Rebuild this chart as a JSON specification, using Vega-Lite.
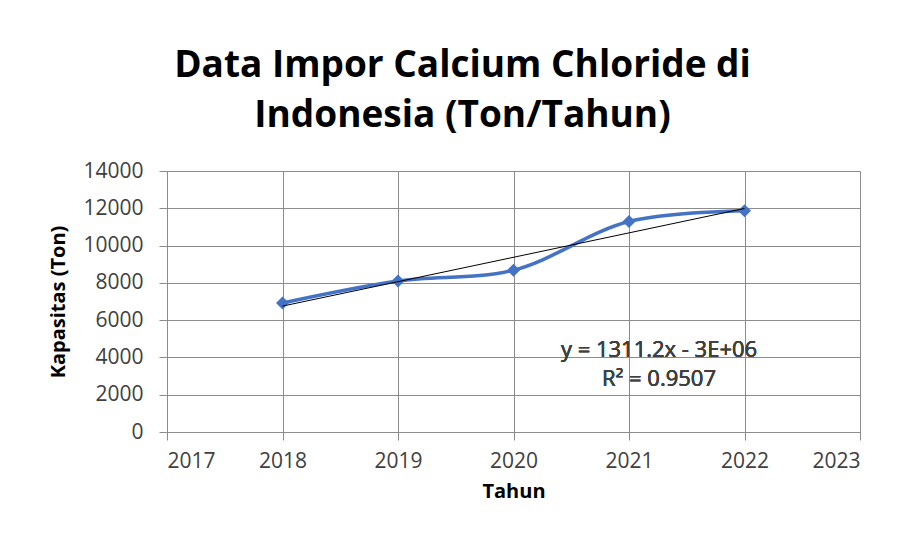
{
  "$schema": "https://vega.github.io/schema/vega-lite/v6.json",
  "autosize": "none",
  "width": 693,
  "height": 261,
  "padding": {"left": 167, "top": 171, "right": 40, "bottom": 110},
  "background": "white",
  "config": {
    "font": "Open Sans",
    "view": {"stroke": null},
    "axis": {
      "gridColor": "#8c8c8c",
      "gridWidth": 1,
      "domainColor": "#8c8c8c",
      "tickColor": "#8c8c8c",
      "tickSize": 8,
      "labelFont": "Open Sans",
      "labelFontSize": 21,
      "labelColor": "#404040",
      "titleFont": "Open Sans",
      "titleFontSize": 20,
      "titleFontWeight": "bold",
      "titleColor": "#000000"
    }
  },
  "title": {
    "text": ["Data Impor Calcium Chloride di", "Indonesia (Ton/Tahun)"],
    "font": "Open Sans",
    "fontSize": 37,
    "fontWeight": "bold",
    "color": "#000000",
    "lineHeight": 50,
    "anchor": "middle",
    "frame": "group",
    "dx": -51,
    "offset": 25
  },
  "data": {
    "values": [
      {"Tahun": 2018, "Kapasitas": 6920},
      {"Tahun": 2019, "Kapasitas": 8100},
      {"Tahun": 2020, "Kapasitas": 8680},
      {"Tahun": 2021, "Kapasitas": 11290},
      {"Tahun": 2022, "Kapasitas": 11870}
    ]
  },
  "encoding": {
    "x": {
      "field": "Tahun", "type": "quantitative",
      "scale": {"domain": [2017, 2023], "nice": false, "zero": false},
      "axis": {"values": [2017, 2018, 2019, 2020, 2021, 2022, 2023], "tickCount": 20, "format": "d", "title": "Tahun", "labelPadding": 10, "titlePadding": 10, "labelOverlap": false}
    },
    "y": {
      "field": "Kapasitas", "type": "quantitative",
      "scale": {"domain": [0, 14000], "nice": false},
      "axis": {"values": [0, 2000, 4000, 6000, 8000, 10000, 12000, 14000], "tickCount": 20, "format": "d", "title": "Kapasitas  (Ton)", "labelPadding": 16, "titlePadding": 14, "labelOverlap": false, "labelFlush": false}
    }
  },
  "layer": [
    {
      "mark": {"type": "line", "color": "#4472C4", "strokeWidth": 3.5, "interpolate": "catmull-rom"}
    },
    {
      "mark": {"type": "point", "shape": "diamond", "filled": true, "color": "#4472C4", "size": 170, "opacity": 1}
    },
    {
      "transform": [{"regression": "Kapasitas", "on": "Tahun", "extent": [2018, 2022]}],
      "mark": {"type": "line", "color": "#000000", "strokeWidth": 1}
    },
    {
      "mark": {"type": "text", "text": ["y = 1311.2x - 3E+06", "R² = 0.9507"], "font": "Open Sans", "fontSize": 22, "fontWeight": "normal", "color": "#404040", "lineHeight": 29, "align": "center", "baseline": "middle"},
      "encoding": {
        "x": {"datum": 2021.26, "type": "quantitative"},
        "y": {"datum": 4400, "type": "quantitative"}
      }
    }
  ]
}
